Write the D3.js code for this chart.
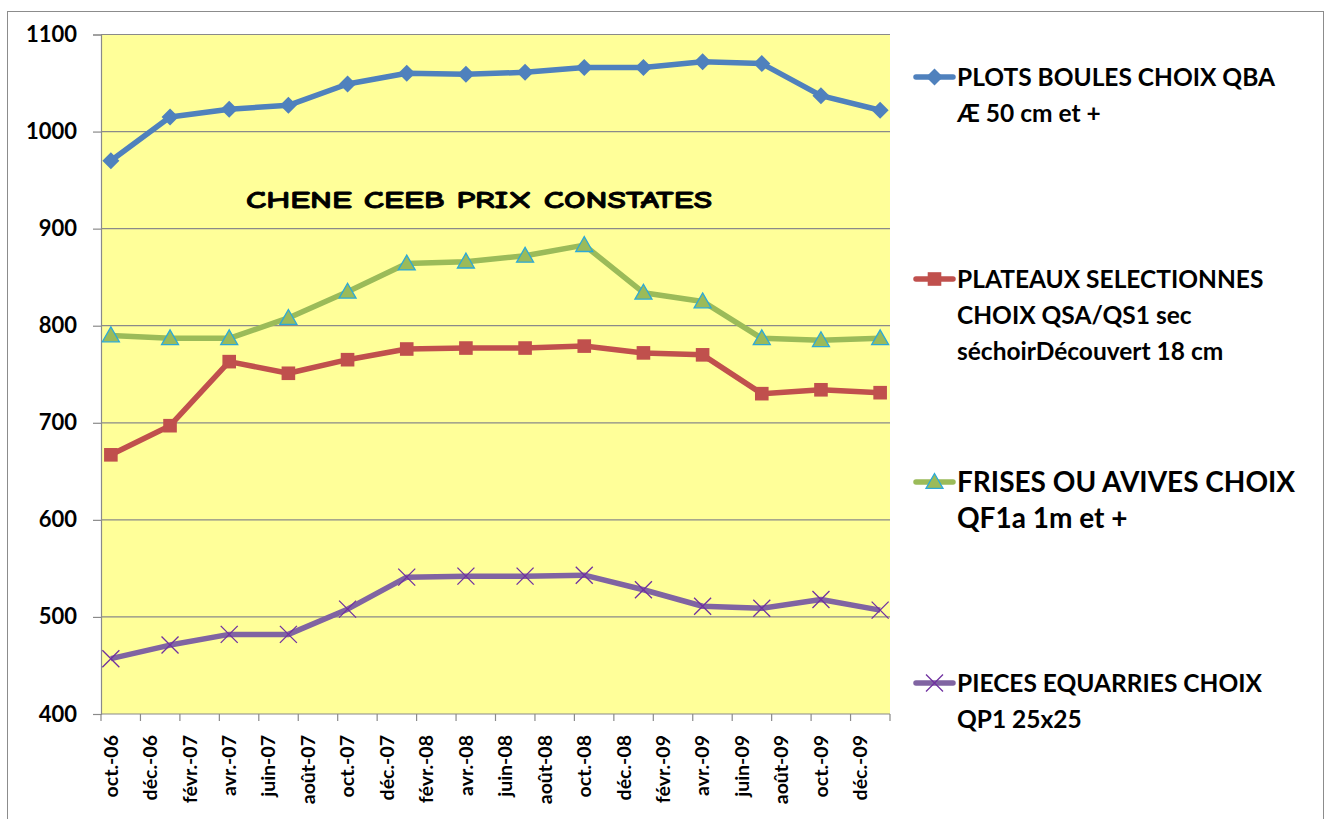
<!DOCTYPE html>
<html>
<head>
<meta charset="utf-8">
<script src="https://cdn.jsdelivr.net/npm/d3@7"></script>
<style>
  body { margin: 0; background: #fff; }
  text { font-family: Lato, "Open Sans", sans-serif; font-weight: bold; }
</style>
</head>
<body>
<div id="chart"></div>
<script>
var w = 1327;
var h = 819;

// data: one point every 3 months, oct.-06 .. janv.-10 (month index from oct.-06)
var pointMonths = [0, 3, 6, 9, 12, 15, 18, 21, 24, 27, 30, 33, 36, 39];
var plots     = [970, 1015, 1023, 1027, 1049, 1060, 1059, 1061, 1066, 1066, 1072, 1070, 1037, 1022];
var plateaux  = [667, 697, 763, 751, 765, 776, 777, 777, 779, 772, 770, 730, 734, 731];
var frises    = [790, 787, 787, 808, 835, 864, 866, 872, 883, 834, 825, 787, 785, 787];
var pieces    = [457, 471, 482, 482, 508, 541, 542, 542, 543, 528, 511, 509, 518, 507];

var monthLabels = ["oct.-06", "déc.-06", "févr.-07", "avr.-07", "juin-07", "août-07",
  "oct.-07", "déc.-07", "févr.-08", "avr.-08", "juin-08", "août-08",
  "oct.-08", "déc.-08", "févr.-09", "avr.-09", "juin-09", "août-09",
  "oct.-09", "déc.-09"];
var yTicks = [400, 500, 600, 700, 800, 900, 1000, 1100];

var series = [
  {name: ["PLOTS BOULES CHOIX QBA", "Æ 50 cm et +"], values: plots, color: "#4F81BD", marker: "diamond", ly: 77, fs: 24.5},
  {name: ["PLATEAUX SELECTIONNES", "CHOIX QSA/QS1 sec", "séchoirDécouvert 18 cm"], values: plateaux, color: "#C0504D", marker: "square", ly: 279, fs: 24.5},
  {name: ["FRISES OU AVIVES CHOIX", "QF1a 1m et +"], values: frises, color: "#9BBB59", marker: "triangle", ly: 482, fs: 28},
  {name: ["PIECES EQUARRIES CHOIX", "QP1 25x25"], values: pieces, color: "#8064A2", marker: "cross", ly: 683, fs: 24.5}
];

var svg = d3.select("#chart")
  .append("svg")
  .attr("width", w)
  .attr("height", h);

// chart border
svg.append("rect")
  .attr("x", 7.5).attr("y", 11.5)
  .attr("width", 1316).attr("height", 830)
  .attr("fill", "#fff")
  .attr("stroke", "#8c8c8c");

var pLeft = 101, pRight = 890, pTop = 34.5, pBottom = 714;

var x = d3.scaleLinear().domain([0, 40]).range([pLeft, pRight]);
var y = d3.scaleLinear().domain([400, 1100]).range([pBottom, pTop]);

svg.append("rect")
  .attr("x", pLeft).attr("y", pTop)
  .attr("width", pRight - pLeft).attr("height", pBottom - pTop)
  .attr("fill", "#FFFF99");

// gridlines
svg.selectAll("line.grid")
  .data(yTicks.slice(1))
  .enter()
  .append("line")
  .attr("x1", pLeft).attr("x2", pRight)
  .attr("y1", function(d) { return y(d); })
  .attr("y2", function(d) { return y(d); })
  .attr("stroke", "#8a8a8a")
  .attr("stroke-width", 1.2);

// y axis
var yAxis = svg.append("g")
  .attr("transform", "translate(" + pLeft + ",0)")
  .call(d3.axisLeft(y).tickValues(yTicks).tickFormat(d3.format("d")).tickSize(8).tickPadding(16));
yAxis.select(".domain").attr("stroke", "#8a8a8a").attr("stroke-width", 1.2);
yAxis.selectAll(".tick line").attr("stroke", "#8a8a8a").attr("stroke-width", 1.2);
yAxis.selectAll(".tick text")
  .attr("fill", "#000")
  .style("font-size", "22px")
  .style("font-family", "Lato, sans-serif")
  .style("font-weight", "bold");

// x axis: ticks every 2 months, labels centered in first month slot
var xAxis = svg.append("g")
  .attr("transform", "translate(0," + pBottom + ")");
xAxis.append("line")
  .attr("x1", pLeft).attr("x2", pRight)
  .attr("stroke", "#8a8a8a").attr("stroke-width", 1.2);
xAxis.selectAll("line.tk")
  .data(d3.range(0, 41, 2))
  .enter()
  .append("line")
  .attr("x1", function(d) { return x(d); })
  .attr("x2", function(d) { return x(d); })
  .attr("y1", 0).attr("y2", 7)
  .attr("stroke", "#8a8a8a").attr("stroke-width", 1.2);
xAxis.selectAll("text")
  .data(monthLabels)
  .enter()
  .append("text")
  .attr("transform", function(d, i) {
    return "translate(" + x(i * 2 + 0.5) + ",21) rotate(-90)";
  })
  .attr("dy", "0.35em")
  .attr("text-anchor", "end")
  .attr("font-size", 19.5)
  .text(function(d) { return d; });

// lines
var line = d3.line()
  .x(function(d, i) { return x(pointMonths[i] + 0.5); })
  .y(function(d) { return y(d); });

function drawMarker(g, type, color, cx, cy, s) {
  if (type == "diamond") {
    g.append("path")
      .attr("d", "M" + cx + "," + (cy - s) + "L" + (cx + s) + "," + cy + "L" + cx + "," + (cy + s) + "L" + (cx - s) + "," + cy + "Z")
      .attr("fill", color);
  } else if (type == "square") {
    g.append("rect")
      .attr("x", cx - s * 0.8).attr("y", cy - s * 0.8)
      .attr("width", s * 1.6).attr("height", s * 1.6)
      .attr("fill", color);
  } else if (type == "triangle") {
    g.append("path")
      .attr("d", "M" + cx + "," + (cy - s) + "L" + (cx + s) + "," + (cy + s * 0.75) + "L" + (cx - s) + "," + (cy + s * 0.75) + "Z")
      .attr("fill", color)
      .attr("stroke", "#2CA9D8")
      .attr("stroke-width", 1.3);
  } else {
    g.append("path")
      .attr("d", "M" + (cx - s) + "," + (cy - s) + "L" + (cx + s) + "," + (cy + s) + "M" + (cx + s) + "," + (cy - s) + "L" + (cx - s) + "," + (cy + s))
      .attr("stroke", "#7030A0")
      .attr("stroke-width", 1.3)
      .attr("fill", "none");
  }
}

series.forEach(function(s) {
  svg.append("path")
    .datum(s.values)
    .attr("d", line)
    .attr("fill", "none")
    .attr("stroke", s.color)
    .attr("stroke-width", 5.5)
    .attr("stroke-linejoin", "round");
  var g = svg.append("g");
  s.values.forEach(function(v, i) {
    drawMarker(g, s.marker, s.color, x(pointMonths[i] + 0.5), y(v), 8.5);
  });
});

// title inside plot
svg.append("text")
  .attr("x", 479).attr("y", 208)
  .attr("text-anchor", "middle")
  .attr("font-size", 25)
  .attr("textLength", 466)
  .attr("lengthAdjust", "spacingAndGlyphs")
  .attr("stroke", "#000")
  .attr("stroke-width", 0.8)
  .style("font-family", "'Comic Sans MS', 'Comic Neue', 'DejaVu Sans', sans-serif")
  .text("CHENE CEEB PRIX CONSTATES");

// legend
series.forEach(function(s) {
  var lg = svg.append("g");
  lg.append("line")
    .attr("x1", 916).attr("x2", 953)
    .attr("y1", s.ly).attr("y2", s.ly)
    .attr("stroke", s.color)
    .attr("stroke-width", 5.5)
    .attr("stroke-linecap", "round");
  drawMarker(lg, s.marker, s.color, 934.5, s.ly, 8.5);
  s.name.forEach(function(t, j) {
    lg.append("text")
      .attr("x", 957)
      .attr("y", s.ly + j * 36)
      .attr("dy", "0.35em")
      .attr("font-size", s.fs)
      .text(t);
  });
});
</script>
</body>
</html>
